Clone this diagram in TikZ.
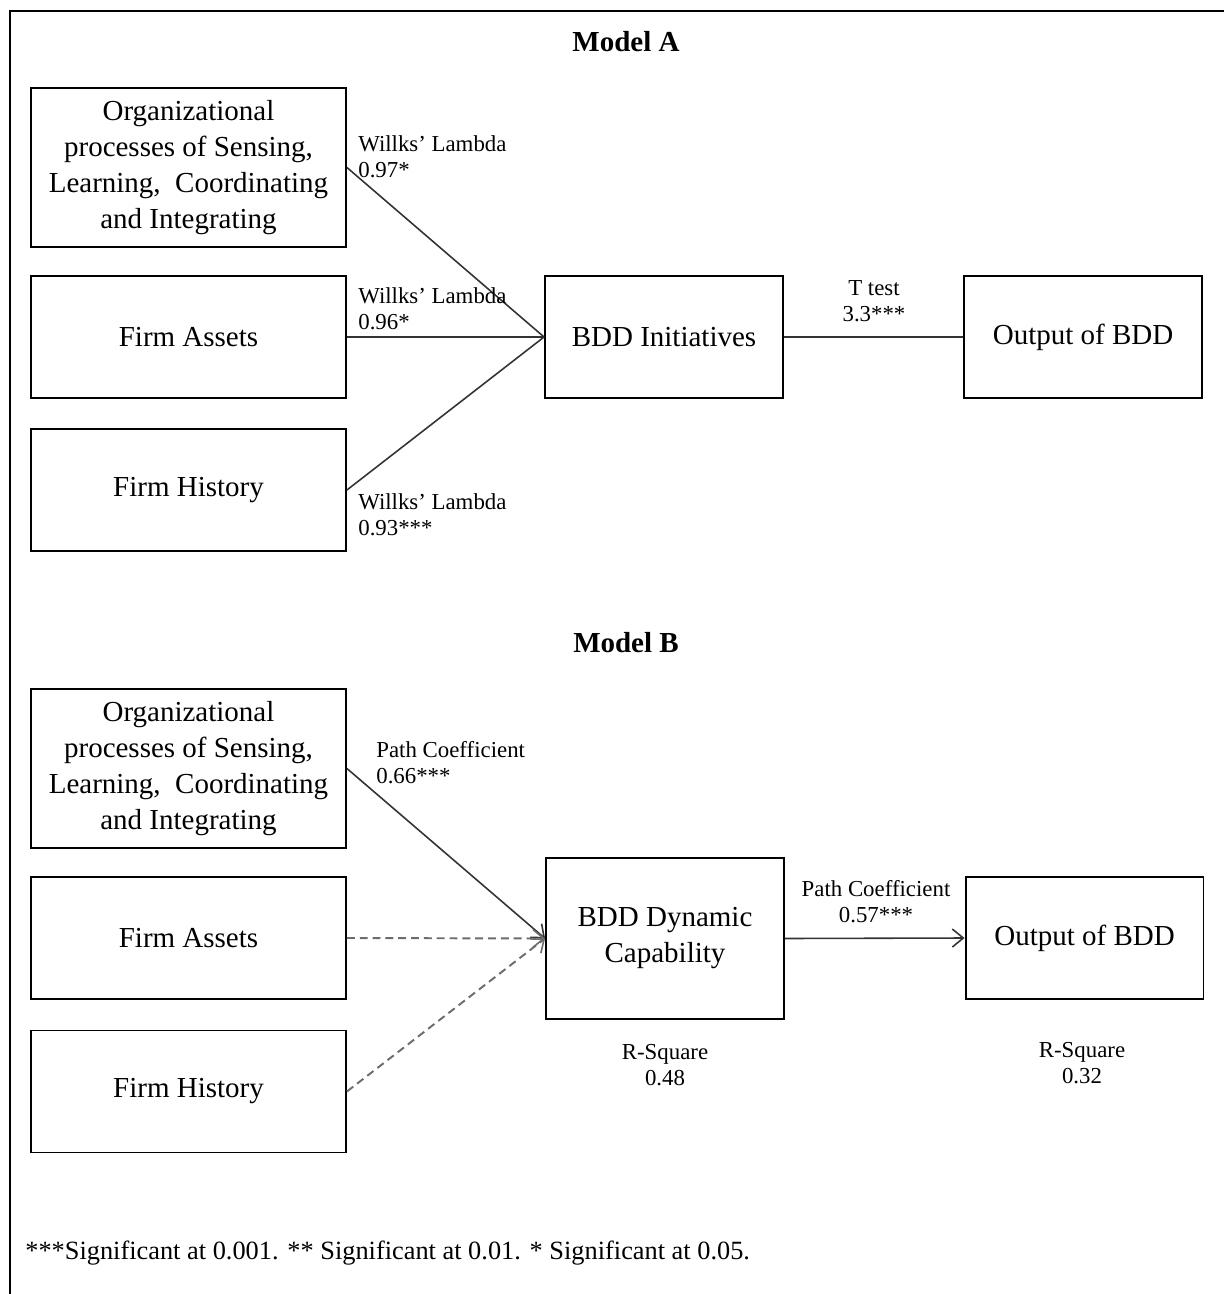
\documentclass[tikz,border=0pt]{standalone}
\usepackage{fontspec}
\setmainfont{Liberation Serif}
\usetikzlibrary{arrows.meta,positioning}
\newcommand{\boxtxt}{\fontsize{16.5}{20.5}\selectfont}
\newcommand{\lbltxt}{\fontsize{13}{14.7}\selectfont}

\begin{document}
\begin{tikzpicture}[x=0.02cm,y=-0.02cm,
    box/.style={draw,line width=1.1pt,align=center,inner sep=0pt,font=\boxtxt,
                minimum width=6.3cm,minimum height=2.44cm},
    tallbox/.style={box,minimum height=3.18cm},
    midbox/.style={box,minimum width=4.76cm},
    lbl/.style={align=left,anchor=west,inner sep=0pt,font=\lbltxt},
    clbl/.style={align=center,inner sep=0pt,font=\lbltxt},
    link/.style={line width=0.9pt,black!80},
    arr/.style={link,-{Straight Barb[length=2.2mm,width=3.6mm,line width=0.9pt]}},
    darr/.style={arr,gray!85!black,line width=1.1pt,dash pattern=on 4.5pt off 2.8pt}]
  \useasboundingbox (0,0) rectangle (1224,1294);
 %frame
    \draw[line width=1.5pt] (10,1294) -- (10,11) -- (1224,11);
 %model a
  %titles
    \node[font=\fontsize{16.5}{20}\selectfont\bfseries] (ta) at (626,42) {Model A};
  %draw boxes
    \node[tallbox] (orga) at (188.5,167.5) {Organizational\\processes of Sensing,\\Learning,\ \ Coordinating\\and Integrating};
    \node[box] (assa) at (188.5,337) {Firm Assets};
    \node[box] (hisa) at (188.5,490) {Firm History};
    \node[midbox] (ini) at (664,337) {BDD Initiatives};
    \node[midbox] (outa) at (1083,337) {Output of BDD};
  %draw edges
    \draw[link] (orga.east) -- (ini.west);
    \draw[link] (assa.east) -- (ini.west);
    \draw[link] (hisa.east) -- (ini.west);
    \draw[link] (ini.east) -- (outa.west);
  %weights
    \node[lbl] (wl1) at (358,157) {Willks' Lambda\\0.97*};
    \node[lbl] (wl2) at (358,309) {Willks' Lambda\\0.96*};
    \node[lbl] (wl3) at (358,515) {Willks' Lambda\\0.93***};
    \node[clbl] (tt) at (874,301) {T test\\3.3***};
 %model b
    \node[font=\fontsize{16.5}{20}\selectfont\bfseries] (tb) at (626,643) {Model B};
  %draw boxes
    \node[tallbox] (orgb) at (188.5,768.5) {Organizational\\processes of Sensing,\\Learning,\ \ Coordinating\\and Integrating};
    \node[box] (assb) at (188.5,938) {Firm Assets};
    \node[box] (hisb) at (188.5,1091.5) {Firm History};
    \node[midbox,minimum height=3.22cm] (dyn) at (665,938.5) {BDD Dynamic\\Capability};
    \node[midbox] (outb) at (1084.5,938) {Output of BDD};
  %draw arrows
    \draw[arr] (orgb.east) -- (dyn.west);
    \draw[darr] (assb.east) -- (dyn.west);
    \draw[darr] (hisb.east) -- (dyn.west);
    \draw[arr] (dyn.east) -- (outb.west);
  %weights
    \node[lbl] (pc1) at (376,763) {Path Coefficient\\0.66***};
    \node[clbl] (pc2) at (876,902) {Path Coefficient\\0.57***};
    \node[clbl] (rs1) at (665,1065) {R-Square\\0.48};
    \node[clbl] (rs2) at (1082,1063) {R-Square\\0.32};
 %note
    \node[anchor=west,inner sep=0pt,font=\fontsize{15}{18}\selectfont] (note) at (25,1253)
      {***Significant at 0.001. ** Significant at 0.01. * Significant at 0.05.};
\end{tikzpicture}
\end{document}
